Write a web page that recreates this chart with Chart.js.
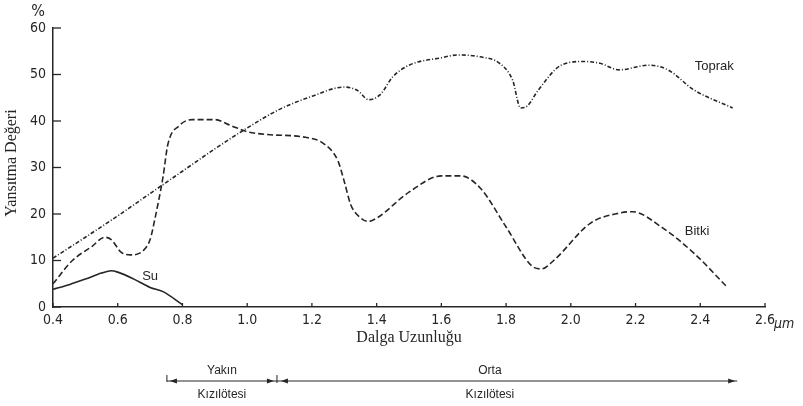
<!DOCTYPE html>
<html>
<head>
<meta charset="utf-8">
<script src="https://cdn.jsdelivr.net/npm/chart.js@4/dist/chart.umd.min.js"></script>
<style>
  html, body { margin: 0; padding: 0; background: #fff; }
  #wrap { width: 803px; height: 406px; position: relative; }
</style>
</head>
<body>
<div id="wrap"><canvas id="spectra"></canvas></div>
<script>
// wavelengths (µm) and reflectance (%)
const toprakWl = [0.4, 0.5, 0.6, 0.7, 0.8, 0.9, 1.0, 1.1, 1.2, 1.3, 1.34, 1.375, 1.41, 1.45, 1.5, 1.6, 1.65, 1.72, 1.78, 1.82, 1.845, 1.865, 1.9, 1.97, 2.04, 2.09, 2.15, 2.24, 2.3, 2.38, 2.5];
const toprakVal = [10.5, 15, 19.6, 24.4, 29.2, 34, 38.5, 42.5, 45.3, 47.3, 46.6, 44.6, 45.6, 49.5, 52, 53.6, 54.2, 53.8, 52.4, 48.8, 42.8, 43.2, 46.7, 52, 52.8, 52.4, 51, 52, 51, 46.7, 42.8];

const bitkiWl = [0.4, 0.46, 0.52, 0.56, 0.58, 0.61, 0.64, 0.68, 0.7, 0.715, 0.74, 0.755, 0.79, 0.83, 0.9, 0.95, 1.0, 1.06, 1.18, 1.235, 1.28, 1.3, 1.32, 1.35, 1.375, 1.4, 1.5, 1.6, 1.66, 1.72, 1.8, 1.88, 1.91, 1.95, 2.06, 2.15, 2.19, 2.28, 2.38, 2.48];
const bitkiVal = [5, 10, 13, 15, 14.5, 11.8, 11.2, 12.2, 14.5, 19, 28, 35, 39, 40.3, 40.3, 39, 37.7, 37.1, 36.5, 35.2, 31.5, 27, 22, 19.2, 18.4, 19.1, 24.7, 28.2, 28.2, 25.6, 17.2, 8.8, 8.2, 10.2, 18, 20.2, 20.5, 17.2, 11.6, 4.5];

const suWl = [0.4, 0.45, 0.5, 0.55, 0.58, 0.6, 0.65, 0.7, 0.74, 0.8];
const suVal = [3.8, 4.8, 6.0, 7.3, 7.8, 7.5, 6.0, 4.2, 3.3, 0.5];

const xTicks = [0.4, 0.6, 0.8, 1.0, 1.2, 1.4, 1.6, 1.8, 2.0, 2.2, 2.4, 2.6];
const yTicks = [0, 10, 20, 30, 40, 50, 60];

const ink = "#262626";
const tickFont = "'Liberation Sans Narrow', 'DejaVu Sans Condensed', 'Liberation Sans', sans-serif";
const serif = "'Liberation Serif', 'DejaVu Serif', serif";
const sans = "'Liberation Sans', Arial, sans-serif";

function toPoints(xs, ys) {
  return xs.map((x, i) => ({ x: x, y: ys[i] }));
}

// inward ticks, curve names, units and the infrared bands under the axis
const extras = {
  id: "extras",
  afterDraw(chart) {
    const { ctx, scales: { x, y } } = chart;
    ctx.save();
    ctx.strokeStyle = ink;
    ctx.fillStyle = ink;
    ctx.lineWidth = 1.3;

    yTicks.forEach((v) => {
      const py = y.getPixelForValue(v);
      ctx.beginPath();
      ctx.moveTo(x.left, py);
      ctx.lineTo(x.left + 8, py);
      ctx.stroke();
    });
    xTicks.forEach((v) => {
      const px = x.getPixelForValue(v);
      ctx.beginPath();
      ctx.moveTo(px, y.bottom);
      ctx.lineTo(px, y.bottom - 4);
      ctx.stroke();
    });

    // curve names
    ctx.font = "13px " + sans;
    ctx.textAlign = "center";
    ctx.textBaseline = "middle";
    ctx.fillText("Su", x.getPixelForValue(0.7), y.getPixelForValue(6.5));
    ctx.fillText("Toprak", x.getPixelForValue(2.443), y.getPixelForValue(51.8));
    ctx.fillText("Bitki", x.getPixelForValue(2.39), y.getPixelForValue(16.2));

    // % and µm
    ctx.font = "16px " + tickFont;
    ctx.fillText("%", 38, 12);
    ctx.font = "italic 14px " + tickFont;
    ctx.textAlign = "left";
    ctx.fillText("µm", 774, 324);

    // y title
    ctx.save();
    ctx.translate(12, 163);
    ctx.rotate(-Math.PI / 2);
    ctx.textAlign = "center";
    ctx.font = "16px " + serif;
    ctx.fillText("Yansıtma Değeri", 0, 0);
    ctx.restore();

    // bands
    const lineY = 381;
    const a = x.getPixelForValue(0.752);
    const b = x.getPixelForValue(1.092);
    const c = x.getPixelForValue(2.514);
    ctx.lineWidth = 1;
    ctx.beginPath();
    ctx.moveTo(a, lineY); ctx.lineTo(c, lineY);
    ctx.moveTo(a, lineY - 6); ctx.lineTo(a, lineY + 1);
    ctx.moveTo(b, lineY - 6); ctx.lineTo(b, lineY + 2);
    ctx.stroke();
    const arrow = (px, dir) => {
      ctx.beginPath();
      ctx.moveTo(px, lineY);
      ctx.lineTo(px - dir * 7, lineY - 2.5);
      ctx.lineTo(px - dir * 7, lineY + 2.5);
      ctx.closePath();
      ctx.fill();
    };
    arrow(a + 3, -1);
    arrow(b - 3, 1);
    arrow(b + 4, -1);
    arrow(c - 2, 1);

    ctx.textAlign = "center";
    ctx.font = "12px " + sans;
    const mid1 = (a + b) / 2;
    const mid2 = x.getPixelForValue(1.75);
    ctx.fillText("Yakın", mid1, lineY - 10);
    ctx.fillText("Kızılötesi", mid1, lineY + 14);
    ctx.fillText("Orta", mid2, lineY - 10);
    ctx.fillText("Kızılötesi", mid2, lineY + 14);
    ctx.restore();
  },
};

const lineStyle = {
  borderColor: ink,
  borderWidth: 1.6,
  pointRadius: 0,
  fill: false,
  cubicInterpolationMode: "monotone",
};

new Chart(document.getElementById("spectra"), {
  type: "line",
  data: {
    datasets: [
      { label: "Toprak", data: toPoints(toprakWl, toprakVal), borderDash: [4, 2, 1, 2], ...lineStyle },
      { label: "Bitki", data: toPoints(bitkiWl, bitkiVal), borderDash: [6, 3], ...lineStyle },
      { label: "Su", data: toPoints(suWl, suVal), ...lineStyle },
    ],
  },
  options: {
    responsive: true,
    maintainAspectRatio: false,
    animation: false,
    layout: { padding: { left: 0, top: 28, right: 38, bottom: 54 } },
    plugins: { legend: { display: false }, tooltip: { enabled: false } },
    scales: {
      x: {
        type: "linear",
        min: 0.4,
        max: 2.6,
        afterFit: (scale) => { scale.height = 45; },
        afterBuildTicks: (scale) => { scale.ticks = xTicks.map((v) => ({ value: v })); },
        ticks: {
          color: ink,
          padding: 5,
          font: { family: tickFont, size: 14 },
          callback: (v) => Number(v).toFixed(1),
        },
        grid: { drawOnChartArea: false, drawTicks: false },
        border: { display: true, color: ink, width: 1.5 },
        title: {
          display: true,
          text: "Dalga Uzunluğu",
          color: ink,
          font: { family: serif, size: 16 },
          padding: { top: 0, bottom: 5 },
        },
      },
      y: {
        min: 0,
        max: 60,
        afterFit: (scale) => { scale.width = 53; },
        afterBuildTicks: (scale) => { scale.ticks = yTicks.map((v) => ({ value: v })); },
        ticks: {
          color: ink,
          padding: 7,
          font: { family: tickFont, size: 14 },
        },
        grid: { drawOnChartArea: false, drawTicks: false },
        border: { display: true, color: ink, width: 1.5 },
      },
    },
  },
  plugins: [extras],
});
</script>
</body>
</html>
